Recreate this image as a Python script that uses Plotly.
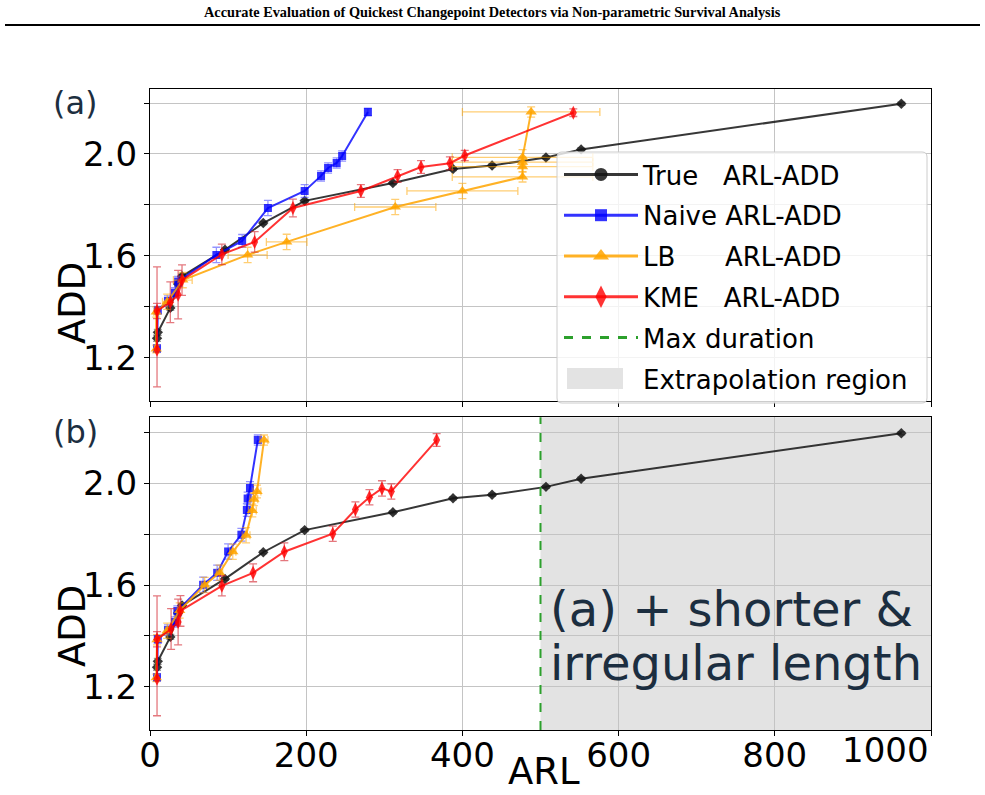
import plotly.graph_objects as go

# ---------------- data ----------------
true_arl = [9, 10, 26, 36, 41, 96, 145, 198, 311, 388, 438, 507, 552, 962]
true_add = [1.277, 1.30, 1.396, 1.49, 1.52, 1.624, 1.729, 1.816, 1.886, 1.941, 1.955, 1.986, 2.018, 2.197]
true_err = [0.012, 0.012, 0.01, 0.01, 0.008, 0.006, 0.006, 0.006, 0.006, 0.006, 0.006, 0.006, 0.006, 0.006]

naive_a_arl = [9, 10, 23, 32, 36, 85, 118, 151, 198, 219, 228, 239, 246, 279]
naive_a_add = [1.237, 1.387, 1.423, 1.455, 1.5, 1.604, 1.659, 1.788, 1.855, 1.914, 1.945, 1.965, 1.992, 2.165]
naive_a_err = [0.015, 0.015, 0.02, 0.02, 0.02, 0.03, 0.025, 0.03, 0.025, 0.02, 0.02, 0.02, 0.02, 0.015]

lb_a_arl = [8, 8, 22, 42, 125, 175, 314, 400, 477, 477, 477, 477, 488]
lb_a_add = [1.235, 1.38, 1.42, 1.505, 1.604, 1.655, 1.792, 1.855, 1.91, 1.95, 1.968, 1.987, 2.165]
lb_a_xerr = [2, 3, 6, 12, 25, 26, 52, 71, 90, 90, 90, 90, 88]
lb_a_yerr = [0.015, 0.02, 0.03, 0.03, 0.03, 0.03, 0.03, 0.03, 0.02, 0.02, 0.02, 0.03, 0.02]

kme_a_arl = [9, 9, 26, 36, 41, 92, 134, 183, 270, 317, 347, 384, 403, 542]
kme_a_add = [1.232, 1.384, 1.418, 1.448, 1.505, 1.606, 1.655, 1.788, 1.855, 1.914, 1.949, 1.964, 1.994, 2.162]
kme_a_err_up = [0.325, 0.03, 0.08, 0.095, 0.06, 0.04, 0.04, 0.035, 0.025, 0.025, 0.025, 0.025, 0.02, 0.015]
kme_a_err_dn = [0.146, 0.03, 0.08, 0.095, 0.06, 0.04, 0.04, 0.035, 0.025, 0.025, 0.025, 0.025, 0.02, 0.015]

naive_b_arl = [9, 10, 23, 32, 35, 68, 86, 100, 117, 124, 125, 128, 138]
naive_b_add = [1.237, 1.387, 1.423, 1.455, 1.498, 1.601, 1.648, 1.732, 1.798, 1.895, 1.94, 1.982, 2.17]
naive_b_err = [0.015, 0.015, 0.02, 0.02, 0.02, 0.03, 0.03, 0.03, 0.025, 0.025, 0.025, 0.025, 0.02]

lb_b_arl = [8, 9, 22, 38, 70, 89, 106, 123, 131, 133, 137, 146]
lb_b_add = [1.235, 1.385, 1.42, 1.5, 1.6, 1.648, 1.731, 1.796, 1.893, 1.937, 1.968, 2.17]
lb_b_xerr = [1, 1, 2, 3, 4, 4, 4, 5, 5, 5, 5, 5]
lb_b_yerr = [0.015, 0.02, 0.03, 0.03, 0.03, 0.03, 0.03, 0.03, 0.025, 0.025, 0.025, 0.02]

kme_b_arl = [9, 9, 27, 36, 39, 92, 132, 172, 234, 263, 281, 297, 309, 367]
kme_b_add = [1.232, 1.387, 1.427, 1.455, 1.498, 1.597, 1.648, 1.731, 1.802, 1.897, 1.945, 1.98, 1.968, 2.17]
kme_b_err_up = [0.325, 0.03, 0.08, 0.09, 0.06, 0.04, 0.035, 0.035, 0.03, 0.03, 0.03, 0.03, 0.03, 0.025]
kme_b_err_dn = [0.146, 0.03, 0.08, 0.09, 0.06, 0.04, 0.035, 0.035, 0.03, 0.03, 0.03, 0.03, 0.03, 0.025]

max_duration = 500
x_max = 1000
x_ticks = [0, 200, 400, 600, 800, 1000]
x_ticktext = ["0", "200", "400", "600", "800", ""]
x_last_label = "1000"
y_ticks = [1.2, 1.4, 1.6, 1.8, 2.0, 2.2]
y_ticktext = ["1.2", "", "1.6", "", "2.0", ""]

legend_names = ["True\u00a0\u00a0\u00a0ARL-ADD", "Naive ARL-ADD",
                "LB\u00a0\u00a0\u00a0\u00a0\u00a0\u00a0ARL-ADD",
                "KME\u00a0\u00a0\u00a0ARL-ADD", "Max duration", "Extrapolation region"]

# ---------------- styles ----------------
C_TRUE = "rgba(20,20,20,0.85)"
C_NAIVE = "rgba(0,0,255,0.8)"
C_LB = "rgba(255,165,0,0.85)"
C_KME = "rgba(255,0,0,0.8)"
E_TRUE = "rgba(60,60,60,0.5)"
E_NAIVE = "rgba(60,60,255,0.55)"
E_LB = "rgba(255,165,0,0.55)"
E_KME = "rgba(210,30,40,0.6)"
GREY = "#e3e3e3"
FONT = "DejaVu Sans"
TXT = "#1c2e40"

# plot-area geometry (pixels) used to convert positions to paper units
W, H = 985, 795
ML, MR, MT, MB = 150, 54, 89, 65
PW, PH = W - ML - MR, H - MT - MB


def px(xp):
    return (xp - ML) / PW


def py(yp):
    return (H - MB - yp) / PH


def rounded_rect(x0p, y0p, x1p, y1p, r):
    x0, x1 = px(x0p), px(x1p)
    yt, yb = py(y0p), py(y1p)
    rx, ry = r / PW, r / PH
    return (f"M{x0+rx},{yt} L{x1-rx},{yt} Q{x1},{yt} {x1},{yt-ry} "
            f"L{x1},{yb+ry} Q{x1},{yb} {x1-rx},{yb} L{x0+rx},{yb} Q{x0},{yb} {x0},{yb+ry} "
            f"L{x0},{yt-ry} Q{x0},{yt} {x0+rx},{yt} Z")


fig = go.Figure()


def series(x, y, xa, ya, color, ecolor, symbol, size, yerr, yerr_minus=None, xerr=None):
    ey = dict(type="data", array=yerr, color=ecolor, thickness=1.3, width=4)
    if yerr_minus is not None:
        ey["symmetric"] = False
        ey["arrayminus"] = yerr_minus
    kw = dict(x=x, y=y, xaxis=xa, yaxis=ya, mode="lines+markers",
              line=dict(color=color, width=2),
              marker=dict(symbol=symbol, size=size, color=color, line=dict(width=0)),
              error_y=ey, showlegend=False, hoverinfo="x+y")
    if xerr is not None:
        kw["error_x"] = dict(type="data", array=xerr, color=ecolor, thickness=1.3, width=4)
    fig.add_trace(go.Scatter(**kw))


for xa, ya, panel in [("x", "y", "a"), ("x2", "y2", "b")]:
    series(true_arl, true_add, xa, ya, C_TRUE, E_TRUE, "diamond", 8, true_err)
    if panel == "a":
        series(naive_a_arl, naive_a_add, xa, ya, C_NAIVE, E_NAIVE, "square", 8, naive_a_err)
        series(lb_a_arl, lb_a_add, xa, ya, C_LB, E_LB, "triangle-up", 10, lb_a_yerr, xerr=lb_a_xerr)
        series(kme_a_arl, kme_a_add, xa, ya, C_KME, E_KME, "diamond-tall", 10, kme_a_err_up, kme_a_err_dn)
    else:
        series(naive_b_arl, naive_b_add, xa, ya, C_NAIVE, E_NAIVE, "square", 8, naive_b_err)
        series(lb_b_arl, lb_b_add, xa, ya, C_LB, E_LB, "triangle-up", 10, lb_b_yerr, xerr=lb_b_xerr)
        series(kme_b_arl, kme_b_add, xa, ya, C_KME, E_KME, "diamond-tall", 10, kme_b_err_up, kme_b_err_dn)

# legend entries
leg_specs = [
    (legend_names[0], C_TRUE, "circle", 13),
    (legend_names[1], C_NAIVE, "square", 12),
    (legend_names[2], C_LB, "triangle-up", 14),
    (legend_names[3], C_KME, "diamond-tall", 16),
]
for i, (nm, col, sym, sz) in enumerate(leg_specs):
    fig.add_trace(go.Scatter(x=[None], y=[None], xaxis="x", yaxis="y", name=nm,
                             mode="lines+markers", legendgroup=f"g{i}",
                             line=dict(color=col, width=3),
                             marker=dict(symbol=sym, size=sz, color=col)))
fig.add_trace(go.Scatter(x=[None], y=[None], xaxis="x", yaxis="y", name=legend_names[4],
                         mode="lines", legendgroup="g4",
                         line=dict(color="#2ca02c", width=3, dash="dash")))
# swatch for this entry is drawn as a shape (wide filled patch)
fig.add_trace(go.Scatter(x=[None], y=[None], xaxis="x", yaxis="y", name=legend_names[5],
                         mode="lines", legendgroup="g5",
                         line=dict(color="rgba(0,0,0,0)", width=0)))

axis_common = dict(showline=True, linecolor="black", linewidth=1, mirror=True,
                   showgrid=True, gridcolor="#c4c4c4", gridwidth=1, zeroline=False,
                   ticks="outside", ticklen=5, tickcolor="black",
                   tickfont=dict(family=FONT, size=34, color="black"))

fig.update_layout(
    width=W, height=H,
    margin=dict(l=ML, r=MR, t=MT, b=MB),
    paper_bgcolor="white", plot_bgcolor="white",
    font=dict(family=FONT, color="black"),
    xaxis=dict(domain=[0, 1], anchor="y", range=[0, x_max], tickvals=x_ticks,
               showticklabels=False, **axis_common),
    yaxis=dict(domain=[0.513, 1], anchor="x", range=[1.03, 2.255], tickvals=y_ticks,
               ticktext=y_ticktext, **axis_common),
    xaxis2=dict(domain=[0, 1], anchor="y2", range=[0, x_max], tickvals=x_ticks,
                ticktext=x_ticktext, ticklabelstandoff=-10, matches="x", **axis_common),
    yaxis2=dict(domain=[0, 0.488], anchor="x2", range=[1.03, 2.26], tickvals=y_ticks,
                ticktext=y_ticktext, **axis_common),
    legend=dict(x=px(559), y=py(151), xanchor="left", yanchor="top",
                bgcolor="rgba(0,0,0,0)", borderwidth=0,
                font=dict(family=FONT, size=26, color="black"),
                traceorder="grouped", tracegroupgap=4, itemwidth=74),
    shapes=[
        dict(type="rect", xref="x2", yref="y2 domain", x0=max_duration, x1=x_max, y0=0, y1=1,
             fillcolor=GREY, line=dict(width=0), layer="below"),
        dict(type="line", xref="x2", yref="y2 domain", x0=max_duration, x1=max_duration, y0=0, y1=1,
             line=dict(color="#2ca02c", width=2, dash="dash")),
        dict(type="line", xref="paper", yref="paper", x0=px(5), x1=px(980), y0=py(25), y1=py(25),
             line=dict(color="black", width=2)),
        # legend frame (rounded, semi-transparent) and extrapolation swatch
        dict(type="path", xref="paper", yref="paper", path=rounded_rect(557, 152, 927, 403, 5),
             fillcolor="rgba(255,255,255,0.8)", line=dict(color="#cccccc", width=1), layer="above"),
        dict(type="rect", xref="paper", yref="paper", x0=px(567), x1=px(623), y0=py(389), y1=py(368),
             fillcolor=GREY, line=dict(width=0), layer="above"),
    ],
    annotations=[
        dict(text="<b>Accurate Evaluation of Quickest Changepoint Detectors via Non-parametric Survival Analysis</b>",
             xref="paper", yref="paper", x=px(492), y=py(12), xanchor="center", yanchor="middle",
             showarrow=False, font=dict(family="Liberation Serif", size=14.3, color="black")),
        dict(text="(a)", xref="paper", yref="paper", x=px(51), y=py(103), xanchor="left",
             yanchor="middle", showarrow=False, font=dict(family=FONT, size=32, color=TXT)),
        dict(text="(b)", xref="paper", yref="paper", x=px(51), y=py(432), xanchor="left",
             yanchor="middle", showarrow=False, font=dict(family=FONT, size=32, color=TXT)),
        dict(text="ADD", xref="paper", yref="paper", x=px(72), y=py(303), textangle=-90,
             xanchor="center", yanchor="middle", showarrow=False,
             font=dict(family=FONT, size=37, color="black")),
        dict(text="ADD", xref="paper", yref="paper", x=px(72), y=py(626), textangle=-90,
             xanchor="center", yanchor="middle", showarrow=False,
             font=dict(family=FONT, size=37, color="black")),
        dict(text="ARL", xref="paper", yref="paper", x=px(544), y=py(771), xanchor="center",
             yanchor="middle", showarrow=False, font=dict(family=FONT, size=37, color="black")),
        dict(text=x_last_label, xref="x2", yref="paper", x=x_max, y=py(750),
             xanchor="right", yanchor="middle", showarrow=False,
             font=dict(family=FONT, size=34, color="black")),
        dict(text="(a) + shorter &", xref="x2", yref="paper", x=509, y=py(609),
             xanchor="left", yanchor="middle", showarrow=False,
             font=dict(family=FONT, size=48, color=TXT)),
        dict(text="irregular length", xref="x2", yref="paper", x=509, y=py(663),
             xanchor="left", yanchor="middle", showarrow=False,
             font=dict(family=FONT, size=48, color=TXT)),
    ],
)

fig.write_html("out.html")
